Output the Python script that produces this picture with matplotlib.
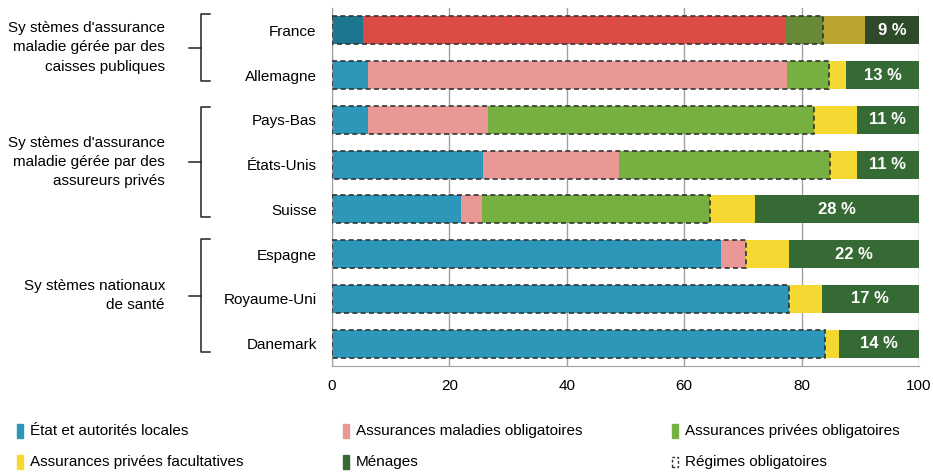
import matplotlib
matplotlib.use("Agg")
import matplotlib.pyplot as plt
from matplotlib.patches import Rectangle
from matplotlib.lines import Line2D

plt.rcParams['font.family'] = ['Liberation Sans', 'DejaVu Sans']

# data (shares of health spending, %)
countries = ['France', 'Allemagne', 'Pays-Bas', 'États-Unis', 'Suisse',
             'Espagne', 'Royaume-Uni', 'Danemark']
etat = [5.3, 6.2, 6.2, 25.7, 21.9, 66.3, 77.8, 84.0]
maladie_oblig = [72.0, 71.3, 20.3, 23.2, 3.6, 4.2, 0.0, 0.0]
privees_oblig = [6.4, 7.2, 55.6, 36.0, 38.9, 0.0, 0.0, 0.0]
privees_facult = [7.1, 2.9, 7.3, 4.5, 7.7, 7.3, 5.6, 2.4]
menages = [9.2, 12.4, 10.6, 10.6, 27.9, 22.2, 16.6, 13.6]
menages_labels = ['9 %', '13 %', '11 %', '11 %', '28 %', '22 %', '17 %', '14 %']

series_names = ['État et autorités locales', 'Assurances maladies obligatoires',
                'Assurances privées obligatoires', 'Assurances privées facultatives',
                'Ménages']
colors = ['#2C97B8', '#E99896', '#76B041', '#F5D932', '#366A35']
colors_france = ['#1C7690', '#DC4B46', '#688B38', '#BBA530', '#2E4A2A']

groups = ["Sy stèmes d'assurance\nmaladie gérée par des\ncaisses publiques",
          "Sy stèmes d'assurance\nmaladie gérée par des\nassureurs privés",
          "Sy stèmes nationaux\nde santé"]

FS = 11

fig = plt.figure(figsize=(9.33, 4.72), dpi=100)
W, H = 933, 472
ax = fig.add_axes([332 / W, 1 - 366 / H, (919 - 332) / W, (366 - 8) / H])

series = [etat, maladie_oblig, privees_oblig, privees_facult, menages]
bh = 0.63
for i, c in enumerate(countries):
    left = 0
    cols = colors_france if i == 0 else colors
    for k, vals in enumerate(series):
        v = vals[i]
        if v > 0:
            ax.barh(i, v, left=left, height=bh, color=cols[k], zorder=2)
        left += v
    # dashed box around compulsory schemes
    oblig = etat[i] + maladie_oblig[i] + privees_oblig[i]
    ax.add_patch(Rectangle((0, i - bh / 2), oblig, bh, fill=False,
                           edgecolor='#333333', linestyle=(0, (3, 2)),
                           lw=1.2, zorder=4))
    ax.text(100 - menages[i] / 2, i, menages_labels[i], ha='center',
            va='center', color='white', fontsize=12, fontweight='bold', zorder=5)

ax.set_xlim(0, 100)
ax.set_ylim(len(countries) - 0.5, -0.5)
ax.set_xticks([0, 20, 40, 60, 80, 100])
ax.set_yticks(range(len(countries)))
ax.set_yticklabels(countries)
ax.tick_params(axis='both', length=0, labelsize=FS)
ax.tick_params(axis='x', pad=9)
ax.tick_params(axis='y', pad=11)
ax.grid(axis='x', color='#A0A0A0', lw=1, zorder=0)
ax.set_axisbelow(True)
for s in ['top', 'right']:
    ax.spines[s].set_visible(False)
for s in ['left', 'bottom']:
    ax.spines[s].set_color('#A0A0A0')

# group brackets and labels
def fy(px):
    return 1 - px / H

brackets = [(14, 81), (107, 217), (239, 352)]
for (top, bot), label in zip(brackets, groups):
    mid = (top + bot) / 2
    xv = 201 / W
    fig.add_artist(Line2D([210 / W, xv, xv, 210 / W], [fy(top), fy(top), fy(bot), fy(bot)],
                          color='#222222', lw=1.1))
    fig.add_artist(Line2D([189 / W, xv], [fy(mid), fy(mid)], color='#222222', lw=1.1))
    fig.text(165 / W, fy(mid), label, ha='right', va='center', fontsize=FS,
             linespacing=1.5)

# legend, drawn by hand
leg_x = [17, 343, 672]
leg_y = [431, 462]
for k, name in enumerate(series_names + ['Régimes obligatoires']):
    x = leg_x[k % 3]
    y = leg_y[k // 3]
    if k < 5:
        fig.add_artist(Rectangle((x / W, fy(y + 7)), 6 / W, 14 / H,
                                 color=colors[k], transform=fig.transFigure))
    else:
        fig.add_artist(Rectangle((x / W, fy(y + 5)), 6 / W, 10 / H, fill=False,
                                 edgecolor='#333333', linestyle=(0, (2, 1.5)), lw=1,
                                 transform=fig.transFigure))
    fig.text((x + 13) / W, fy(y), name, ha='left', va='center', fontsize=FS)

fig.savefig('out.png', dpi=100)
